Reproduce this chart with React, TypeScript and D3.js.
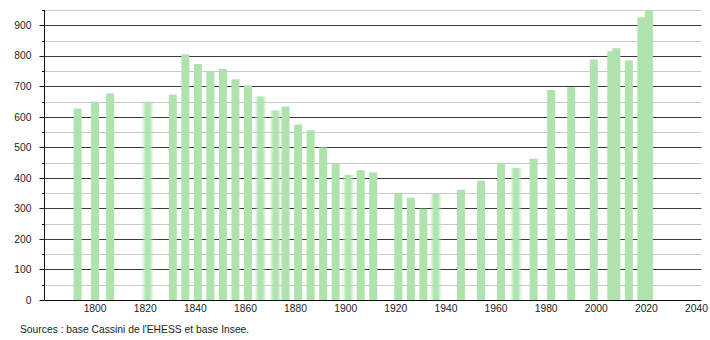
import React from "react";
import * as d3 from "d3";

const years = [1793, 1800, 1806, 1821, 1831, 1836, 1841, 1846, 1851, 1856, 1861, 1866, 1872, 1876, 1881, 1886, 1891, 1896, 1901, 1906, 1911, 1921, 1926, 1931, 1936, 1946, 1954, 1962, 1968, 1975, 1982, 1990, 1999, 2006, 2008, 2013, 2018, 2021];
const population = [627, 650, 677, 650, 673, 805, 773, 750, 757, 723, 703, 667, 621, 634, 575, 556, 500, 448, 410, 425, 418, 348, 335, 299, 348, 361, 391, 449, 433, 463, 688, 697, 788, 815, 825, 785, 926, 955];
const softYears = [1821, 1866, 1872, 1901, 1936, 1968];
const xTicks = [1800, 1820, 1840, 1860, 1880, 1900, 1920, 1940, 1960, 1980, 2000, 2020, 2040];
const yMajor = [0, 100, 200, 300, 400, 500, 600, 700, 800, 900];
const yMinor = [50, 150, 250, 350, 450, 550, 650, 750, 850, 950];
const source = "Sources : base Cassini de l'EHESS et base Insee.";

const W = 710, H = 340;
const left = 45, right = 701.5, top = 10, bottom = 300;
const barW = 8;
const font = "'Liberation Sans', Arial, Helvetica, sans-serif";

export default function App() {
  const x = d3.scaleLinear().domain([1780, 2042]).range([left, right]);
  const y = d3.scaleLinear().domain([0, 950]).range([bottom, top]);
  const cy = (v: number) => Math.round(y(v)) + 0.5;
  const ax = left - 0.5;
  return (
    <svg width={W} height={H} style={{ position: "absolute", left: 0, top: 0, background: "#fff" }}>
      <defs>
        <filter id="soft" x="-50%" y="-5%" width="200%" height="110%">
          <feGaussianBlur stdDeviation="1.6 0" />
        </filter>
        <clipPath id="plot">
          <rect x={left} y={top} width={right - left} height={bottom - top} />
        </clipPath>
      </defs>
      {yMinor.map((v) => (
        <line key={"mi" + v} x1={ax} x2={right} y1={cy(v)} y2={cy(v)} stroke="#c8c8c8" strokeWidth={1} />
      ))}
      {yMajor.filter((v) => v > 0).map((v) => (
        <line key={"ma" + v} x1={ax} x2={right} y1={cy(v)} y2={cy(v)} stroke="#3a3a3a" strokeWidth={1} />
      ))}
      <g clipPath="url(#plot)">
        {years.map((yr, i) => (
          <rect
            key={yr}
            x={x(yr) - barW / 2}
            y={y(population[i])}
            width={barW}
            height={y(0) - y(population[i])}
            fill="#aee3ae"
            filter={softYears.includes(yr) ? "url(#soft)" : undefined}
          />
        ))}
      </g>
      <line x1={ax} x2={right} y1={cy(0)} y2={cy(0)} stroke="#111" strokeWidth={1} />
      <line x1={ax} x2={ax} y1={top} y2={cy(0)} stroke="#111" strokeWidth={1} />
      {yMajor.map((v) => (
        <line key={"tM" + v} x1={ax - 5} x2={ax} y1={cy(v)} y2={cy(v)} stroke="#111" strokeWidth={1} />
      ))}
      {yMinor.map((v) => (
        <line key={"tm" + v} x1={ax - 2.5} x2={ax} y1={cy(v)} y2={cy(v)} stroke="#111" strokeWidth={1} />
      ))}
      {yMajor.map((v) => (
        <text key={"yl" + v} x={31.5} y={y(v) + 3.7} textAnchor="end" fontFamily={font} fontSize={10.3} fill="#222">
          {v}
        </text>
      ))}
      {xTicks.map((t) => (
        <text key={"xl" + t} x={x(t)} y={312} textAnchor="middle" fontFamily={font} fontSize={10.3} fill="#222">
          {t}
        </text>
      ))}
      <text x={20} y={333} fontFamily={font} fontSize={10.3} fill="#222">
        {source}
      </text>
    </svg>
  );
}
